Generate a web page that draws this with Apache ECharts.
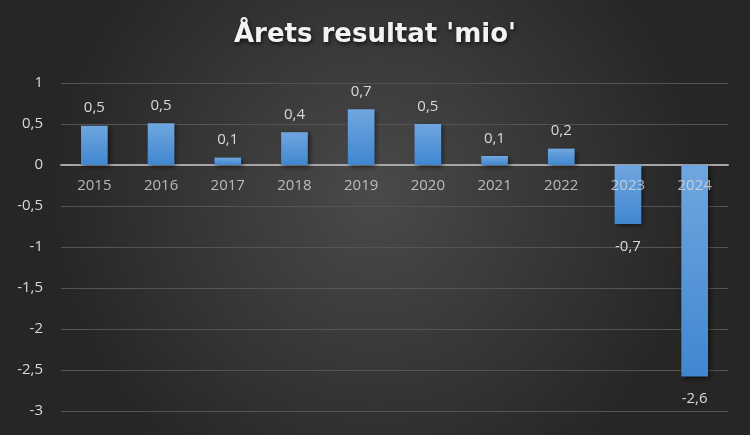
<!DOCTYPE html>
<html><head><meta charset="utf-8">
<script src="https://cdn.jsdelivr.net/npm/echarts@6/dist/echarts.min.js"></script>
<style>html,body{margin:0;padding:0;background:#2a2a2a}#c{width:750px;height:435px}</style>
</head><body><div id="c"></div>
<script>
const categories = ['2015','2016','2017','2018','2019','2020','2021','2022','2023','2024'];
const values = [0.48, 0.51, 0.09, 0.40, 0.68, 0.50, 0.11, 0.20, -0.72, -2.58];
const yTicks = { min: -3, max: 1, interval: 0.5 };
const title = "Årets resultat 'mio'";

const fmt = v => (Math.round(v * 10) / 10).toString().replace('.', ',');
const chart = echarts.init(document.getElementById('c'));
chart.setOption({
  backgroundColor: {
    type: 'radial', x: 0.5, y: 0.45, r: 0.75,
    colorStops: [{offset: 0, color: '#4a4a4a'}, {offset: 1, color: '#262626'}]
  },
  title: {
    text: title, left: 'center', top: 17,
    textStyle: { color: '#f2f2f2', fontFamily: 'DejaVu Sans', fontWeight: 'bold', fontSize: 26,
      textShadowColor: 'rgba(0,0,0,0.7)', textShadowBlur: 4, textShadowOffsetX: 1, textShadowOffsetY: 2 }
  },
  grid: { left: 61, right: 22, top: 83, bottom: 24 },
  xAxis: {
    type: 'category', data: categories,
    axisLine: { onZero: true, lineStyle: { color: '#a6a6a6', width: 2 } },
    axisTick: { show: false },
    axisLabel: { show: false }
  },
  yAxis: {
    type: 'value', min: yTicks.min, max: yTicks.max, interval: yTicks.interval,
    axisLine: { show: false }, axisTick: { show: false },
    splitLine: { lineStyle: { color: '#545454', width: 1 } },
    axisLabel: { color: '#d9d9d9', fontSize: 15, fontFamily: 'Open Sans', margin: 18,
      formatter: v => v.toString().replace('.', ',') }
  },
  series: [{
    type: 'bar', barWidth: '40%',
    data: values.map(v => ({
      value: v,
      label: { position: v < 0 ? 'bottom' : 'top', distance: v < 0 ? 15 : 10 }
    })),
    itemStyle: {
      color: { type: 'linear', x: 0, y: 0, x2: 0, y2: 1,
        colorStops: [{offset: 0, color: '#70a6df'}, {offset: 1, color: '#4087d0'}] },
      shadowColor: 'rgba(0,0,0,0.55)', shadowBlur: 5, shadowOffsetX: 2, shadowOffsetY: 2
    },
    label: { show: true, color: '#d9d9d9', fontSize: 15, fontFamily: 'Open Sans',
      formatter: p => fmt(p.value) }
  }, {
    type: 'scatter', symbolSize: 0, silent: true, z: 5,
    data: categories.map(c => [c, 0]),
    label: { show: true, position: 'bottom', distance: 13, color: '#d9d9d9', fontSize: 15,
      fontFamily: 'Open Sans', formatter: p => p.value[0] }
  }]
});
</script></body></html>
